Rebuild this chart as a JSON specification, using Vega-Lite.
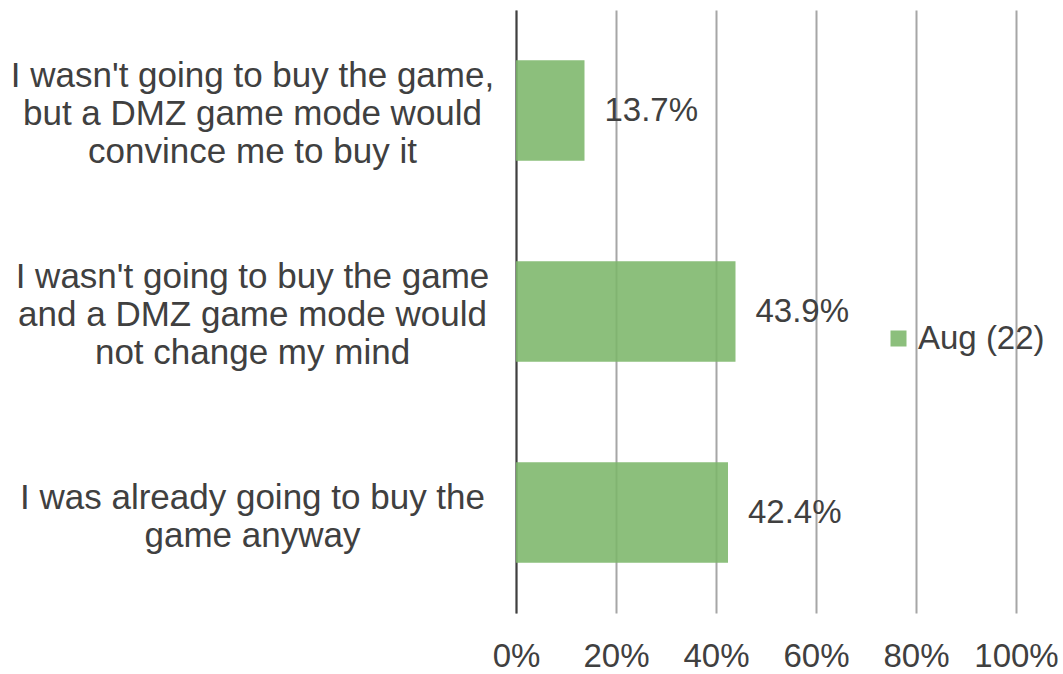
{
  "$schema": "https://vega.github.io/schema/vega-lite/v6.json",
  "width": 500,
  "height": 603,
  "autosize": {"type": "none"},
  "padding": {"left": 516, "top": 10, "right": 47, "bottom": 61},
  "background": "white",
  "config": {
    "view": {"stroke": null},
    "font": "Liberation Sans",
    "text": {"font": "Liberation Sans"}
  },
  "data": {
    "values": [
      {"answer": "I wasn't going to buy the game,|but a DMZ game mode would|convince me to buy it", "value": 13.7, "series": "Aug (22)"},
      {"answer": "I wasn't going to buy the game|and a DMZ game mode would|not change my mind", "value": 43.9, "series": "Aug (22)"},
      {"answer": "I was already going to buy the|game anyway", "value": 42.4, "series": "Aug (22)"}
    ]
  },
  "encoding": {
    "y": {
      "field": "answer",
      "type": "nominal",
      "sort": null,
      "scale": {"paddingInner": 0.5, "paddingOuter": 0.25},
      "axis": {
        "title": null,
        "labelExpr": "split(datum.label, '|')",
        "labelAlign": "center",
        "labelBaseline": "middle",
        "labelPadding": 264,
        "labelOffset": {"condition": {"test": "indexof(datum.value, 'anyway') >= 0", "value": -15}, "value": -35},
        "labelLimit": 0,
        "labelFont": "Liberation Sans",
        "labelFontSize": 35,
        "labelLineHeight": 38,
        "labelColor": "#404040",
        "ticks": false,
        "domain": true,
        "domainColor": "#404040",
        "domainWidth": 2,
        "grid": false
      }
    },
    "x": {
      "field": "value",
      "type": "quantitative",
      "scale": {"domain": [0, 100], "nice": false},
      "axis": {
        "title": null,
        "values": [0, 20, 40, 60, 80, 100],
        "labelExpr": "datum.value + '%'",
        "labelFont": "Liberation Sans",
        "labelFontSize": 33,
        "labelColor": "#404040",
        "labelPadding": 27,
        "labelFlush": false,
        "labelOverlap": false,
        "ticks": false,
        "domain": false,
        "grid": true,
        "gridColor": "#a6a6a6",
        "gridWidth": 2
      }
    }
  },
  "layer": [
    {
      "mark": {"type": "bar", "fillOpacity": 0.88},
      "encoding": {
        "color": {
          "field": "series",
          "type": "nominal",
          "scale": {"range": ["#7cb66a"]},
          "legend": {
            "title": null,
            "orient": "none",
            "legendX": 366,
            "legendY": 312,
            "symbolType": "square",
            "symbolSize": 256,
            "symbolStrokeWidth": 0,
            "symbolOpacity": 0.88,
            "labelFont": "Liberation Sans",
            "labelFontSize": 33,
            "labelColor": "#404040",
            "labelOffset": 3
          }
        }
      }
    },
    {
      "mark": {"type": "text", "align": "left", "baseline": "middle", "dx": 20, "fontSize": 33, "font": "Liberation Sans", "color": "#404040", "text": {"expr": "format(datum.value, '.1f') + '%'"}},
      "encoding": {}
    }
  ]
}
